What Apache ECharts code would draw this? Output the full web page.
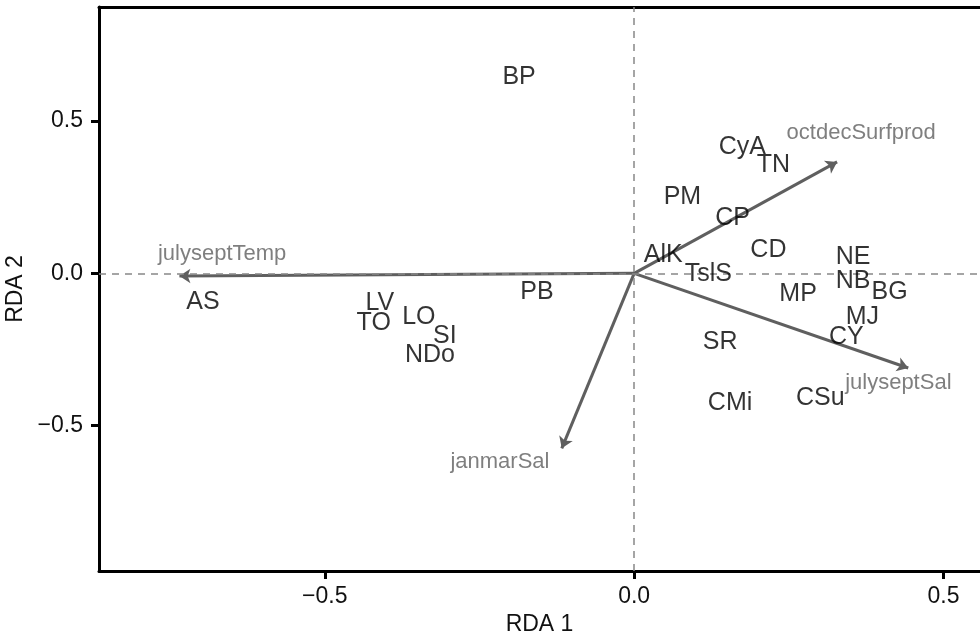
<!DOCTYPE html>
<html>
<head>
<meta charset="utf-8">
<script src="https://cdn.jsdelivr.net/npm/echarts@6/dist/echarts.min.js"></script>
<style>
  html, body { margin: 0; padding: 0; background: #fff; }
  #chart { width: 980px; height: 635px; }
</style>
</head>
<body>
<div id="chart"></div>
<script>
// site scores (RDA 1, RDA 2)
const siteNames = ["BP", "CyA", "TN", "PM", "CP", "CD", "AlK", "TslS", "NE", "NB", "BG", "MP",
  "MJ", "CY", "SR", "CSu", "CMi", "PB", "AS", "LV", "TO", "LO", "SI", "NDo"];
const siteRDA1 = [-0.186, 0.175, 0.225, 0.078, 0.159, 0.217, 0.047, 0.120, 0.354, 0.354, 0.413, 0.265,
  0.369, 0.343, 0.139, 0.301, 0.155, -0.157, -0.697, -0.411, -0.421, -0.348, -0.306, -0.330];
const siteRDA2 = [0.646, 0.415, 0.356, 0.251, 0.182, 0.077, 0.060, -0.002, 0.054, -0.025, -0.062, -0.068,
  -0.143, -0.209, -0.226, -0.410, -0.427, -0.062, -0.094, -0.098, -0.163, -0.144, -0.206, -0.269];

// environmental vectors (arrow tips) and their label positions
const envNames = ["julyseptTemp", "octdecSurfprod", "julyseptSal", "janmarSal"];
const envRDA1 = [-0.735, 0.328, 0.443, -0.117];
const envRDA2 = [-0.009, 0.366, -0.311, -0.575];
const envLabelRDA1 = [-0.666, 0.367, 0.427, -0.217];
const envLabelRDA2 = [0.064, 0.461, -0.361, -0.620];

const tickValues = [-0.5, 0, 0.5];
const xRange = [-0.865, 0.559];
const yRange = [-0.978, 0.875];

const font = "'Liberation Sans', Arial, sans-serif";
const fmt = (v) => (v < 0 ? "\u2212" : "") + Math.abs(v).toFixed(1);

const chart = echarts.init(document.getElementById("chart"));

const axisBase = {
  type: "value",
  axisLine: { show: true, onZero: false, lineStyle: { color: "#000", width: 3 } },
  axisTick: { show: true, length: 8, lineStyle: { color: "#000", width: 3 }, customValues: tickValues },
  axisLabel: { customValues: tickValues, formatter: fmt, fontSize: 23, color: "#111", fontFamily: font },
  splitLine: { show: false },
  nameLocation: "middle",
  nameTextStyle: { fontSize: 23, color: "#111", fontFamily: font },
};

chart.setOption({
  animation: false,
  grid: { left: 99, right: 0, top: 7, bottom: 64, containLabel: false, outerBoundsMode: "none" },
  xAxis: [
    {
      ...axisBase,
      min: xRange[0],
      max: xRange[1],
      name: "RDA 1",
      nameGap: 41,
      axisLabel: { ...axisBase.axisLabel, margin: 14 },
    },
    {
      type: "value",
      position: "top",
      min: xRange[0],
      max: xRange[1],
      axisLine: { show: true, onZero: false, lineStyle: { color: "#000", width: 3 } },
      axisTick: { show: false },
      axisLabel: { show: false },
      splitLine: { show: false },
    },
  ],
  yAxis: {
    ...axisBase,
    min: yRange[0],
    max: yRange[1],
    name: "RDA 2",
    nameGap: 70,
    axisLabel: { ...axisBase.axisLabel, margin: 16 },
  },
  series: [
    {
      type: "scatter",
      symbolSize: 0,
      data: [],
      silent: true,
      markLine: {
        silent: true,
        symbol: "none",
        label: { show: false },
        lineStyle: { color: "#888", width: 1.5, type: [7, 6] },
        data: [{ xAxis: 0 }, { yAxis: 0 }],
      },
    },
    {
      type: "lines",
      coordinateSystem: "cartesian2d",
      symbol: ["none", "arrow"],
      symbolSize: 11,
      lineStyle: { color: "#5f5f5f", width: 3, opacity: 1 },
      data: envNames.map((n, i) => ({ name: n, coords: [[0, 0], [envRDA1[i], envRDA2[i]]] })),
      z: 3,
    },
    {
      type: "scatter",
      symbolSize: 1,
      itemStyle: { color: "rgba(0,0,0,0)" },
      label: {
        show: true,
        position: "inside",
        formatter: (p) => p.name,
        fontSize: 22,
        color: "#5f5f5f",
        fontFamily: font,
      },
      data: envNames.map((n, i) => ({ name: n, value: [envLabelRDA1[i], envLabelRDA2[i]] })),
      z: 4,
    },
    {
      type: "scatter",
      symbolSize: 1,
      itemStyle: { color: "rgba(0,0,0,0)" },
      label: {
        show: true,
        position: "inside",
        formatter: (p) => p.name,
        fontSize: 25,
        color: "#000",
        fontFamily: font,
      },
      labelLayout: { hideOverlap: false },
      data: siteNames.map((n, i) => ({ name: n, value: [siteRDA1[i], siteRDA2[i]] })),
      z: 5,
    },
  ],
});
</script>
</body>
</html>
